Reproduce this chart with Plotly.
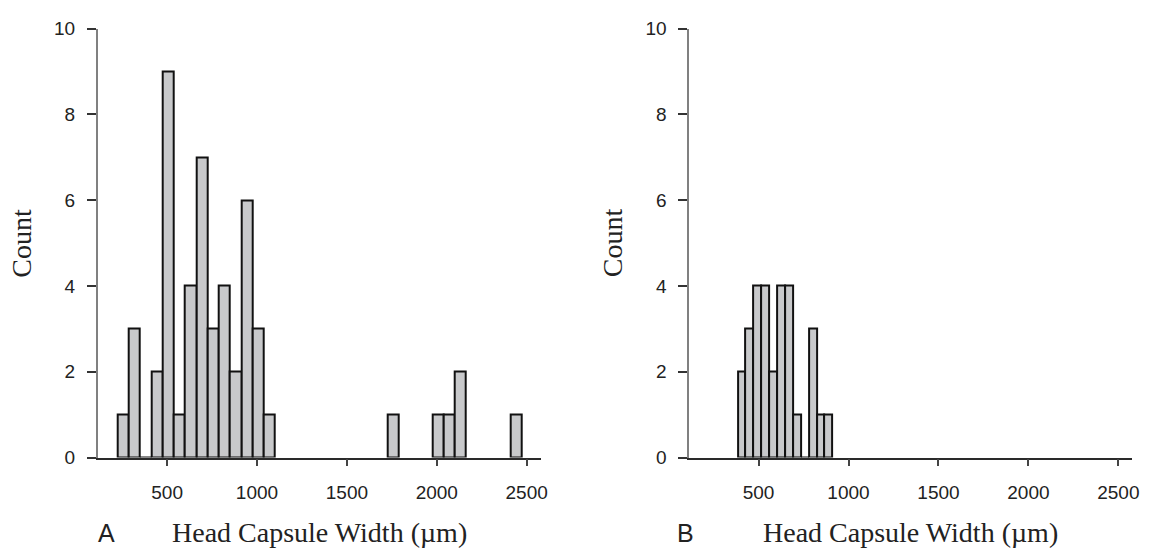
import plotly.graph_objects as go

# ---------------- data ----------------
# Panel A: histogram bins (lower edge, µm) and counts
bin_width_a = 62.5
bin_edges_a = [225, 287.5, 350, 412.5, 475, 537.5, 600, 662.5, 725, 787.5, 850, 912.5, 975, 1037.5,
               1725, 1975, 2037.5, 2100, 2412.5]
counts_a = [1, 3, 0, 2, 9, 1, 4, 7, 3, 4, 2, 6, 3, 1,
            1, 1, 1, 2, 1]

# Panel B
bin_width_b = 43.9
bin_edges_b = [384, 427.9, 471.8, 515.7, 559.6, 603.5, 647.4, 691.3, 735.2, 779.1, 823.0, 866.9]
counts_b = [2, 3, 4, 4, 2, 4, 4, 1, 0, 3, 1, 1]

x_ticks = [500, 1000, 1500, 2000, 2500]
y_ticks = [0, 2, 4, 6, 8, 10]
x_title = "Head Capsule Width (µm)"
y_title = "Count"
panel_labels = ["A", "B"]

# ---------------- layout constants ----------------
W, H = 1156, 558
BAR_FILL = "#c8c9cb"
SANS = "Liberation Sans, Arial, sans-serif"
SERIF = "Liberation Serif, Times New Roman, serif"

fig = go.Figure()

def add_hist(edges, counts, width, xa, ya):
    centers = [e + width / 2 for e in edges]
    fig.add_trace(go.Bar(
        x=centers, y=counts, width=[width] * len(centers),
        marker=dict(color=BAR_FILL, line=dict(color="#111111", width=2)),
        xaxis=xa, yaxis=ya, showlegend=False, hoverinfo="x+y",
    ))

add_hist(bin_edges_a, counts_a, bin_width_a, "x", "y")
add_hist(bin_edges_b, counts_b, bin_width_b, "x2", "y2")

ydom = [1 - 465 / H, 1 - 19.3 / H]
xrange_ = [114, 2578]

xaxis_common = dict(
    range=xrange_, tickmode="array", tickvals=x_ticks, ticktext=[str(v) for v in x_ticks],
    showline=True, linecolor="#2a2a2a", linewidth=1.5, ticks="outside", ticklen=7,
    tickcolor="#444", tickwidth=1.5, showgrid=False, zeroline=False,
    tickfont=dict(family=SANS, size=19, color="#222"), ticklabelstandoff=10,
)
yaxis_common = dict(
    range=[0, 10], tickmode="array", tickvals=y_ticks, ticktext=[str(v) for v in y_ticks],
    showline=True, linecolor="#808080", linewidth=1.5, ticks="outside", ticklen=9,
    tickcolor="#333", tickwidth=1.5, showgrid=False, zeroline=False,
    tickfont=dict(family=SANS, size=19, color="#222"), ticklabelstandoff=8,
)

fig.update_layout(
    width=W, height=H, margin=dict(l=0, r=0, t=0, b=0),
    paper_bgcolor="white", plot_bgcolor="white",
    bargap=0,
    xaxis=dict(domain=[98.3 / W, 544 / W], anchor="y", **xaxis_common),
    yaxis=dict(domain=ydom, anchor="x", **yaxis_common),
    xaxis2=dict(domain=[693.3 / W, 1139.3 / W], anchor="y2", **xaxis_common),
    yaxis2=dict(domain=ydom, anchor="x2", **yaxis_common),
)

ann = []
ymid = 1 - 242 / H
ytitle = 1 - 543 / H
for cx_count, cx_title, cx_lab, lab in [(22, 321, 107, panel_labels[0]), (617, 916, 690, panel_labels[1])]:
    ann.append(dict(x=cx_count / W, y=ymid, xref="paper", yref="paper", text=y_title,
                    textangle=-90, showarrow=False, xanchor="center", yanchor="middle",
                    font=dict(family=SERIF, size=28, color="#222")))
    ann.append(dict(x=cx_title / W, y=ytitle, xref="paper", yref="paper", text=x_title,
                    showarrow=False, xanchor="center", yanchor="middle",
                    font=dict(family=SERIF, size=28, color="#222")))
    ann.append(dict(x=cx_lab / W, y=ytitle, xref="paper", yref="paper", text=lab,
                    showarrow=False, xanchor="center", yanchor="middle",
                    font=dict(family=SANS, size=25, color="#222")))
fig.update_layout(annotations=ann)

fig.write_html(
    "out.html",
    config={"displayModeBar": False},
    post_script="document.body.style.margin='0';document.body.style.overflow='hidden';"
                "document.documentElement.style.overflow='hidden';",
)
